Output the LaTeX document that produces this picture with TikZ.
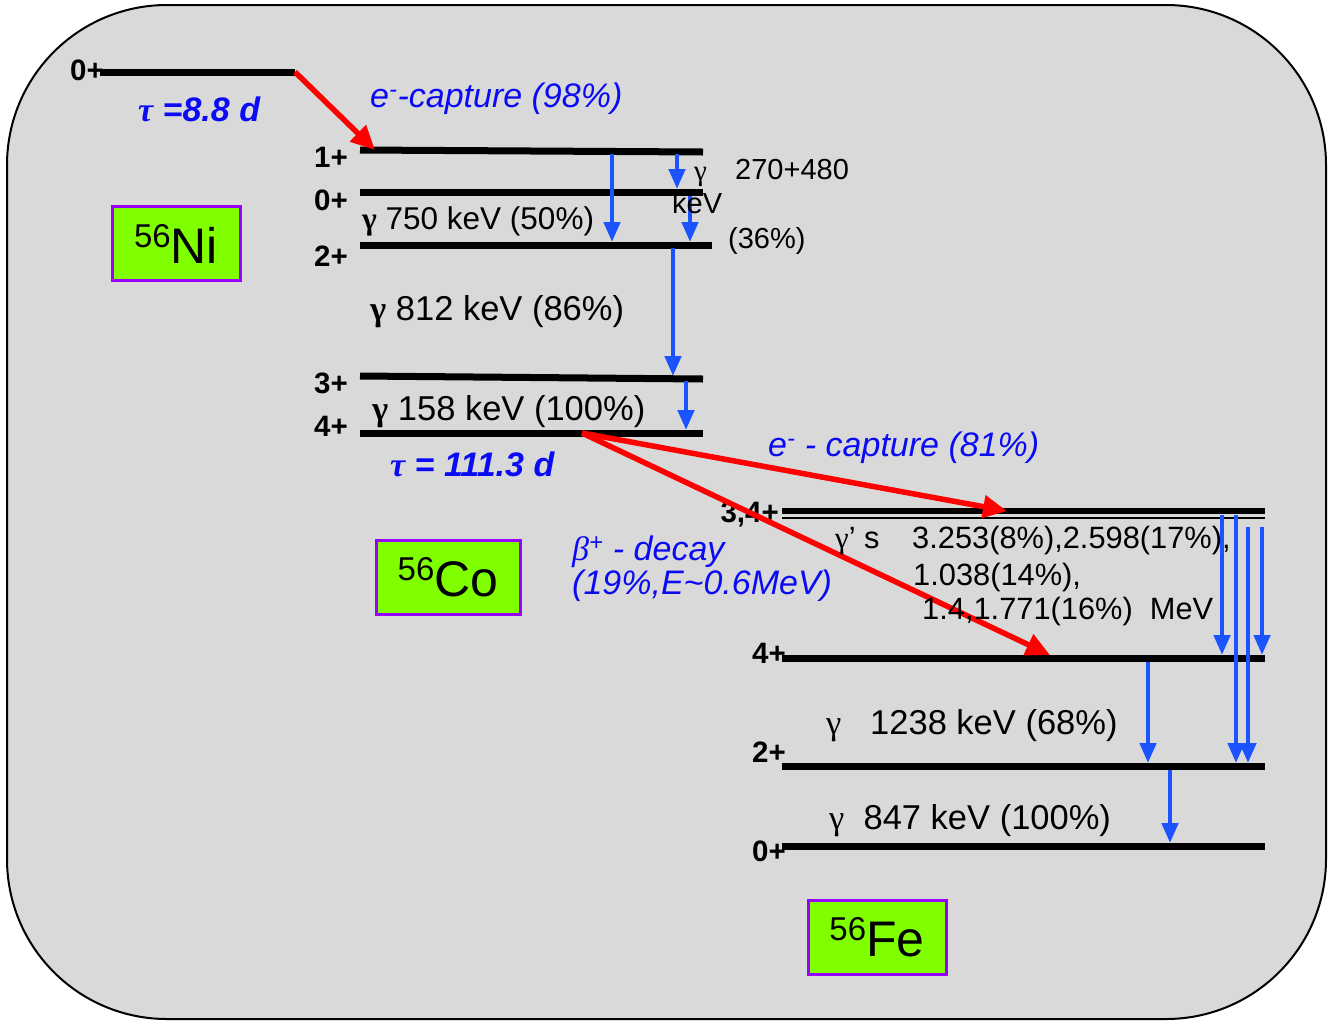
\documentclass[tikz,border=0pt]{standalone}
\usepackage{fontspec}
\setmainfont{Liberation Sans}
\newfontfamily\serifg{Liberation Serif}
\usetikzlibrary{arrows.meta}
\definecolor{bggray}{RGB}{217,217,217}
\definecolor{arrblue}{RGB}{26,83,255}
\definecolor{textblue}{RGB}{10,10,245}
\definecolor{boxgreen}{RGB}{128,255,0}
\definecolor{boxpurple}{RGB}{153,0,255}
\tikzset{
  lvl/.style={line width=7pt},
  lvlthin/.style={line width=2pt},
  lab/.style={font={\fontsize{29.5}{29.5}\selectfont\bfseries}, inner sep=0pt, anchor=base east},
  txt/.style={font={\fontsize{31.5}{31.5}\selectfont}, inner sep=0pt, anchor=base west},
  listtxt/.style={font={\fontsize{30.8}{30.8}\selectfont}, inner sep=0pt, anchor=base west},
  bigtxt/.style={font={\fontsize{34.5}{34.5}\selectfont}, inner sep=0pt, anchor=base west},
  smalltxt/.style={font={\fontsize{29}{29}\selectfont}, inner sep=0pt, anchor=base west},
  bluetxt/.style={text=textblue, font={\fontsize{34}{34}\selectfont\itshape}, inner sep=0pt, anchor=base west},
  tautxt/.style={text=textblue, font={\fontsize{34}{34}\selectfont\bfseries\itshape}, inner sep=0pt, anchor=base west},
  redarr/.style={draw=red, line width=5.5pt, -{Triangle[length=24pt,width=22pt]}},
  bluearr/.style={draw=arrblue, line width=4.6pt, -{Triangle[length=20pt,width=16pt]}},
  nucbox/.style={draw=boxpurple, line width=3pt, fill=boxgreen, inner sep=0pt, minimum width=#1, minimum height=74pt},
}
\newcommand{\nuc}[2]{\raisebox{16pt}{\fontsize{33}{33}\selectfont #1}{\fontsize{50}{50}\selectfont #2}}
\begin{document}
\begin{tikzpicture}[x=1pt,y=-1pt]
\useasboundingbox (0,0) rectangle (1330,1021);
\fill[white] (0,0) rectangle (1330,1021);
\draw[line width=2pt, fill=bggray, rounded corners=160pt] (7,5) rectangle (1326,1019);

% ---- levels ----
\draw[lvl] (100,72) -- (295,72);
\draw[lvl] (360,150) -- (703,152);
\draw[lvl] (360,192) -- (703,192);
\draw[lvl] (360,245) -- (712,245);
\draw[lvl] (360,376) -- (703,379);
\draw[lvl] (360,433) -- (703,433);
\draw[line width=6pt] (782,511) -- (1265,511);
\draw[lvlthin] (782,518) -- (1265,518);
\draw[lvl] (782,658) -- (1265,658);
\draw[lvl] (782,766) -- (1265,766);
\draw[lvl] (782,846) -- (1265,846);

% ---- level labels ----
\node[lab] (lni0) at (104,80) {0+};
\node[lab] (lco1) at (348,167) {1+};
\node[lab] (lco0) at (348,210) {0+};
\node[lab] (lco2) at (348,266) {2+};
\node[lab] (lco3) at (348,393) {3+};
\node[lab] (lco4) at (348,436) {4+};
\node[lab] (lfe34) at (779,522) {3,4+};
\node[lab] (lfe4) at (786,663) {4+};
\node[lab] (lfe2) at (786,762) {2+};
\node[lab] (lfe0) at (786,861) {0+};

% ---- coordinates for transitions ----
\coordinate (ni0) at (295,72);
\coordinate (co1t) at (375,150);
\coordinate (co4s) at (582,433);
\coordinate (fe34t) at (1007,511);
\coordinate (fe4t) at (1050,655);

\coordinate (a1s) at (612,154); \coordinate (a1e) at (612,242);
\coordinate (a2s) at (677,154); \coordinate (a2e) at (677,189);
\coordinate (a3s) at (690,196); \coordinate (a3e) at (690,242);
\coordinate (a4s) at (673,248); \coordinate (a4e) at (673,376);
\coordinate (a5s) at (686,381); \coordinate (a5e) at (686,430);
\coordinate (b1s) at (1222,515); \coordinate (b1e) at (1222,655);
\coordinate (b2s) at (1236,515); \coordinate (b2e) at (1236,763);
\coordinate (b3s) at (1248,527); \coordinate (b3e) at (1248,763);
\coordinate (b4s) at (1262,527); \coordinate (b4e) at (1262,655);
\coordinate (b5s) at (1148,662); \coordinate (b5e) at (1148,763);
\coordinate (b6s) at (1170,770); \coordinate (b6e) at (1170,843);

% ---- red decay arrows ----
\draw[redarr] (ni0) -- (co1t);
\draw[redarr] (co4s) -- (fe34t);
\draw[redarr] (co4s) -- (fe4t);

% ---- blue gamma arrows ----
\foreach \s/\e in {a1s/a1e,a2s/a2e,a3s/a3e,a4s/a4e,a5s/a5e,b1s/b1e,b2s/b2e,b3s/b3e,b4s/b4e,b5s/b5e,b6s/b6e}
  \draw[bluearr] (\s) -- (\e);

% ---- texts ----
\node[bluetxt] (ec98) at (370,107) {e\textsuperscript{-}-capture (98\%)};
\node[tautxt] (tau1) at (138,121) {{\serifg τ} =8.8 d};
\node[tautxt] (tau2) at (390,476) {{\serifg τ} = 111.3 d};

\node[txt] (g750) at (362,229) {{\serifg\bfseries γ} 750 keV (50\%)};
\node[smalltxt] (g270g) at (694,180) {{\serifg γ}};
\node[smalltxt] (g270) at (735,179) {270+480};
\node[smalltxt] (g270k) at (672,213) {keV};
\node[smalltxt] (g36) at (728,248) {(36\%)};
\node[bigtxt] (g812) at (370,320) {{\serifg\bfseries γ} 812 keV (86\%)};
\node[bigtxt] (g158) at (372,420) {{\serifg\bfseries γ} 158 keV (100\%)};

\node[bluetxt] (ec81) at (768,456) {e\textsuperscript{-} - capture (81\%)};
\node[bluetxt] (bp1) at (572,560) {{\serifg β}\textsuperscript{+} - decay};
\node[bluetxt] (bp2) at (572,594) {(19\%,E\textasciitilde0.6MeV)};

\node[listtxt] (gs) at (835,548) {{\serifg γ}’ s};
\node[listtxt] (gs1) at (912,548) {3.253(8\%),2.598(17\%),};
\node[listtxt] (gs2) at (913,585) {1.038(14\%),};
\node[listtxt] (gs3) at (922,619) {1.4,1.771(16\%)\ \ MeV};

\node[bigtxt] (g1238) at (826,734) {{\serifg γ}\ \ \ 1238 keV (68\%)};
\node[bigtxt] (g847) at (829,829) {{\serifg γ}\ \ 847 keV (100\%)};

% ---- nucleus boxes ----
\node[nucbox=128pt] (ni) at (176,243.5) {\nuc{56}{Ni}};
\node[nucbox=144pt] (co) at (448,577.5) {\nuc{56}{Co}};
\node[nucbox=138pt] (fe) at (877,937.5) {\nuc{56}{Fe}};
\end{tikzpicture}
\end{document}
